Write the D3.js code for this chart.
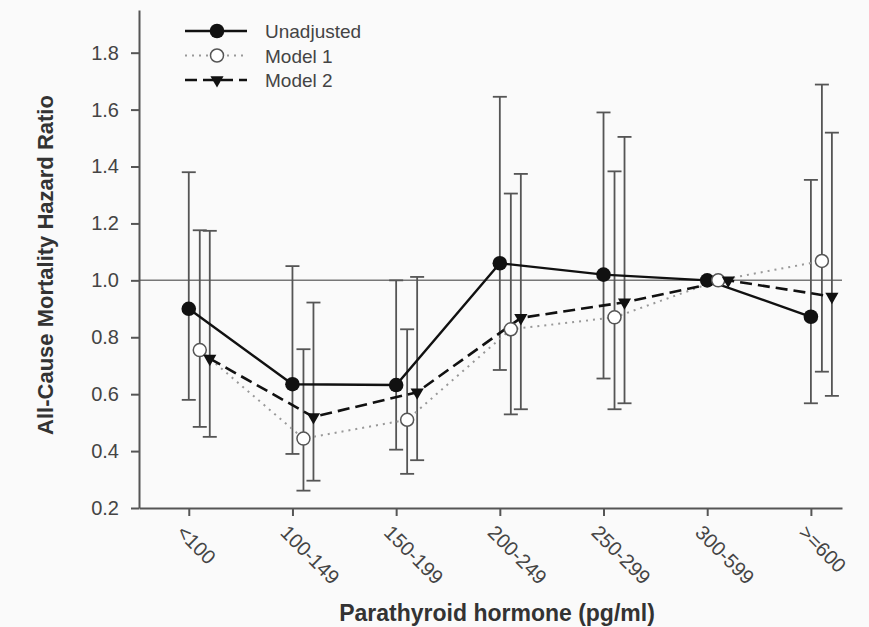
<!DOCTYPE html>
<html>
  <head>
    <script type="text/javascript" src="https://cdnjs.cloudflare.com/ajax/libs/d3/7.8.5/d3.min.js"></script>
    <style type="text/css">

html, body {
  margin: 0;
  background: #fafafa;
}

svg {
  display: block;
  font-family: "Liberation Sans", Arial, sans-serif;
}

.axis path, .axis line {
  stroke: #555;
  stroke-width: 2;
}

.axis text {
  fill: #444;
  font-size: 20px;
}

    </style>
  </head>
  <body>
    <div id="chart"></div>
    <script type="text/javascript">

var categories = ["<100", "100-149", "150-199", "200-249", "250-299", "300-599", ">=600"];

var unadjusted   = [0.90, 0.635, 0.632, 1.06, 1.02, 1.0, 0.872],
    unadjustedLo = [0.58, 0.39, 0.405, 0.685, 0.655, null, 0.568],
    unadjustedHi = [1.38, 1.05, 1.0, 1.645, 1.59, null, 1.353];

var model1   = [0.755, 0.444, 0.51, 0.828, 0.87, 1.0, 1.068],
    model1Lo = [0.485, 0.261, 0.32, 0.529, 0.547, null, 0.679],
    model1Hi = [1.176, 0.758, 0.828, 1.305, 1.383, null, 1.688];

var model2   = [0.725, 0.52, 0.607, 0.868, 0.923, 1.0, 0.943],
    model2Lo = [0.45, 0.296, 0.368, 0.547, 0.568, null, 0.594],
    model2Hi = [1.174, 0.922, 1.012, 1.374, 1.504, null, 1.519];

var yTicks = [0.2, 0.4, 0.6, 0.8, 1.0, 1.2, 1.4, 1.6, 1.8];

var width = 869,
    height = 627;

var svg = d3.select("#chart").append("svg")
    .attr("width", width)
    .attr("height", height);

var x = d3.scaleLinear().domain([-0.48, 6.3]).range([139, 842]),
    y = d3.scaleLinear().domain([0.2, 1.95]).range([508, 10]);

// series: values, bounds and how each one is drawn
var series = [
  {name: "Unadjusted", v: unadjusted, lo: unadjustedLo, hi: unadjustedHi, dx: 0,
   stroke: "#111", width: 2.4, dash: null, symbol: "circle"},
  {name: "Model 1", v: model1, lo: model1Lo, hi: model1Hi, dx: 11,
   stroke: "#999", width: 2, dash: "2,5", symbol: "open"},
  {name: "Model 2", v: model2, lo: model2Lo, hi: model2Hi, dx: 21,
   stroke: "#111", width: 2.6, dash: "12,6", symbol: "triangle"}
];

// reference line at 1.0
svg.append("line")
    .attr("x1", x.range()[0])
    .attr("x2", x.range()[1])
    .attr("y1", y(1))
    .attr("y2", y(1))
    .style("stroke", "#777")
    .style("stroke-width", 1.5);

// axes
svg.append("g")
    .attr("class", "axis")
    .attr("transform", "translate(" + x.range()[0] + ",0)")
    .call(d3.axisLeft(y).tickValues(yTicks).tickFormat(d3.format(".1f"))
      .tickSize(8).tickSizeOuter(0).tickPadding(12));

var xAxis = svg.append("g")
    .attr("class", "axis")
    .attr("transform", "translate(0," + y.range()[0] + ")")
    .call(d3.axisBottom(x).tickValues(d3.range(categories.length))
      .tickFormat(function(i) { return categories[i]; })
      .tickSize(8).tickSizeOuter(0));

xAxis.selectAll(".tick text")
    .attr("text-anchor", "start")
    .attr("dy", null)
    .attr("x", 8.5)
    .attr("y", 28)
    .attr("transform", "rotate(45)");

svg.append("text")
    .attr("x", 497)
    .attr("y", 621)
    .attr("text-anchor", "middle")
    .style("font-size", "23px")
    .style("font-weight", "bold")
    .style("fill", "#333")
    .text("Parathyroid hormone (pg/ml)");

svg.append("text")
    .attr("transform", "translate(53,265) rotate(-90)")
    .attr("text-anchor", "middle")
    .style("font-size", "22px")
    .style("font-weight", "bold")
    .style("fill", "#333")
    .text("All-Cause Mortality Hazard Ratio");

// error bars
series.forEach(function(s) {
  var idx = d3.range(categories.length).filter(function(i) { return s.lo[i] != null; });
  var g = svg.append("g")
      .style("stroke", "#555")
      .style("stroke-width", 1.8);
  idx.forEach(function(i) {
    var cx = x(i) + s.dx;
    g.append("line").attr("x1", cx).attr("x2", cx).attr("y1", y(s.lo[i])).attr("y2", y(s.hi[i]));
    g.append("line").attr("x1", cx - 7).attr("x2", cx + 7).attr("y1", y(s.lo[i])).attr("y2", y(s.lo[i]));
    g.append("line").attr("x1", cx - 7).attr("x2", cx + 7).attr("y1", y(s.hi[i])).attr("y2", y(s.hi[i]));
  });
});

// lines
var line = d3.line();
series.forEach(function(s) {
  svg.append("path")
      .attr("d", line(s.v.map(function(v, i) { return [x(i) + s.dx, y(v)]; })))
      .style("fill", "none")
      .style("stroke", s.stroke)
      .style("stroke-width", s.width)
      .style("stroke-dasharray", s.dash);
});

function marker(sel, kind) {
  if (kind == "circle") {
    sel.append("circle").attr("r", 7.3).style("fill", "#111");
  } else if (kind == "open") {
    sel.append("circle").attr("r", 6.5).style("fill", "#fff")
        .style("stroke", "#555").style("stroke-width", 1.5);
  } else {
    sel.append("path").attr("d", d3.symbol(d3.symbolTriangle, 75)())
        .attr("transform", "rotate(180)").style("fill", "#111");
  }
}

// markers, drawn on top
series.forEach(function(s) {
  s.v.forEach(function(v, i) {
    var g = svg.append("g").attr("transform", "translate(" + (x(i) + s.dx) + "," + y(v) + ")");
    marker(g, s.symbol);
  });
});

// legend
var legend = svg.append("g").attr("transform", "translate(185,31)");
series.forEach(function(s, k) {
  var row = legend.append("g").attr("transform", "translate(0," + (k * 24.5) + ")");
  row.append("line")
      .attr("x1", 0).attr("x2", 62)
      .style("stroke", s.stroke)
      .style("stroke-width", s.width)
      .style("stroke-dasharray", s.dash);
  marker(row.append("g").attr("transform", "translate(32,0)"), s.symbol);
  row.append("text")
      .attr("x", 80)
      .attr("y", 7)
      .style("font-size", "19px")
      .style("fill", "#444")
      .text(s.name);
});

    </script>
  </body>
</html>
